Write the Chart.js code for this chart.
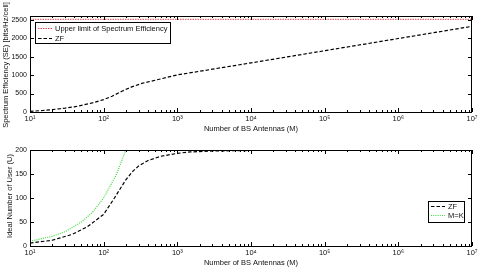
<!DOCTYPE html>
<html>
<head>
<meta charset="utf-8">
<script src="https://cdn.jsdelivr.net/npm/chart.js@4.4.1/dist/chart.umd.min.js"></script>
<style>
  html, body { margin: 0; padding: 0; background: #fff; }
  .panel { width: 480px; height: 134px; position: relative; }
</style>
</head>
<body>
<div class="panel"><canvas id="seChart" width="480" height="134"></canvas></div>
<div class="panel"><canvas id="userChart" width="480" height="134"></canvas></div>
<script>
// x axis: number of BS antennas (M), log scale 10^1 .. 10^7
const decades = [10, 100, 1000, 10000, 100000, 1000000, 10000000]

// top panel: spectrum efficiency
const seM = [10, 15, 20, 30, 40, 50, 70, 100, 130, 180, 240, 330, 550, 1000, 3000, 10000, 100000, 1000000, 10000000]
const seZF = [18, 40, 64, 105, 140, 180, 245, 336, 427, 570, 680, 775, 880, 1005, 1160, 1330, 1660, 1990, 2320]
const limitM = [10, 10000000]
const limitSE = [2510, 2510]
const seTicks = [0, 500, 1000, 1500, 2000, 2500]

// bottom panel: ideal number of users
const userM = [10, 20, 37, 60, 100, 140, 200, 250, 300, 400, 600, 1000, 1500, 3000, 10000, 100000, 10000000]
const userZF = [6, 12, 24, 40, 66, 100, 138, 156, 167, 178, 187, 193, 196, 198, 199, 200, 200]
const mkM = [10, 20, 30, 50, 70, 100, 150, 200]
const mkU = [10, 20, 30, 50, 70, 100, 150, 200]
const userTicks = [0, 50, 100, 150, 200]

const FONT = "'Liberation Sans', Arial, sans-serif"
const sup = { "1": "\u00b9", "2": "\u00b2", "3": "\u00b3", "4": "\u2074", "5": "\u2075", "6": "\u2076", "7": "\u2077" }

const toPoints = (xs, ys) => xs.map((x, i) => ({ x: x, y: ys[i] }))

// MATLAB style box with inward ticks, y title, and a boxed legend
const matlabAxes = {
  id: "matlabAxes",
  afterDraw(chart, args, opts) {
    const { ctx, chartArea: a, scales } = chart
    ctx.save()
    ctx.strokeStyle = "#000"
    ctx.lineWidth = 1
    ctx.strokeRect(Math.round(a.left) + 0.5, Math.round(a.top) + 0.5, Math.round(a.right - a.left) - 1, Math.round(a.bottom - a.top))

    ctx.beginPath()
    decades.forEach((d, i) => {
      for (let k = 1; k <= 9; k++) {
        if (i === decades.length - 1 && k > 1) break
        const px = Math.round(scales.x.getPixelForValue(d * k)) + 0.5
        const len = k === 1 ? 4 : 2
        ctx.moveTo(px, a.bottom)
        ctx.lineTo(px, a.bottom - len)
        ctx.moveTo(px, a.top)
        ctx.lineTo(px, a.top + len)
      }
    })
    scales.y.ticks.forEach((t) => {
      const py = Math.round(scales.y.getPixelForValue(t.value)) + 0.5
      ctx.moveTo(a.left, py)
      ctx.lineTo(a.left + 4, py)
      ctx.moveTo(a.right, py)
      ctx.lineTo(a.right - 4, py)
    })
    ctx.stroke()

    // y axis title
    ctx.fillStyle = "#111"
    ctx.font = "7.5px " + FONT
    ctx.textAlign = "center"
    ctx.textBaseline = "middle"
    ctx.translate(opts.titleX, opts.titleY)
    ctx.rotate(-Math.PI / 2)
    ctx.fillText(opts.title, 0, 0)
    ctx.restore()

    // legend
    const lg = opts.legend
    ctx.save()
    ctx.fillStyle = "#fff"
    ctx.fillRect(lg.x, lg.y, lg.w, lg.h)
    ctx.strokeStyle = "#000"
    ctx.lineWidth = 1
    ctx.strokeRect(lg.x + 0.5, lg.y + 0.5, lg.w, lg.h)
    ctx.font = "7.5px " + FONT
    ctx.textAlign = "left"
    ctx.textBaseline = "middle"
    lg.order.forEach((di, row) => {
      const ds = chart.data.datasets[di]
      const y = lg.y + lg.rowY[row] + 0.5
      ctx.strokeStyle = ds.borderColor
      ctx.lineWidth = ds.borderWidth
      ctx.setLineDash(ds.borderDash || [])
      ctx.beginPath()
      ctx.moveTo(lg.x + lg.sampleX, y)
      ctx.lineTo(lg.x + lg.sampleX + lg.sampleW, y)
      ctx.stroke()
      ctx.setLineDash([])
      ctx.fillStyle = "#111"
      ctx.fillText(ds.label, lg.x + lg.textX, y)
    })
    ctx.restore()
  },
}

function makeOptions(yMin, yMax, yTicks, extra) {
  return {
    responsive: false,
    animation: false,
    layout: { padding: { left: 0, right: 8, top: 16, bottom: 0 } },
    elements: { point: { radius: 0 }, line: { tension: 0 } },
    plugins: {
      legend: { display: false },
      tooltip: { enabled: false },
      matlabAxes: extra,
    },
    scales: {
      x: {
        type: "logarithmic",
        min: 10,
        max: 10000000,
        afterBuildTicks: (s) => { s.ticks = decades.map((v) => ({ value: v })) },
        afterFit: (s) => { s.height = 22 },
        grid: { display: false, drawTicks: false },
        border: { display: false },
        ticks: {
          padding: 2,
          maxRotation: 0,
          autoSkip: false,
          color: "#111",
          font: { family: FONT, size: 7.5 },
          callback: (v) => "10" + sup[String(Math.round(Math.log10(v)))],
        },
        title: {
          display: true,
          text: "Number of BS Antennas (M)",
          color: "#111",
          font: { family: FONT, size: 7.5 },
          padding: { top: 0, bottom: 1 },
        },
      },
      y: {
        min: yMin,
        max: yMax,
        afterBuildTicks: (s) => { s.ticks = yTicks.map((v) => ({ value: v })) },
        afterFit: (s) => { s.width = 30 },
        grid: { display: false, drawTicks: false },
        border: { display: false },
        ticks: {
          padding: 3,
          color: "#111",
          font: { family: FONT, size: 7 },
          callback: (v) => String(v),
        },
      },
    },
  }
}

new Chart(document.getElementById("seChart"), {
  type: "line",
  data: {
    datasets: [
      {
        label: "Upper limit of Spectrum Efficiency",
        data: toPoints(limitM, limitSE),
        borderColor: "#e04a58",
        borderWidth: 1,
        borderDash: [1.5, 1],
      },
      {
        label: "ZF",
        data: toPoints(seM, seZF),
        borderColor: "#000",
        borderWidth: 1.2,
        borderDash: [3.5, 2],
      },
    ],
  },
  options: makeOptions(0, 2600, seTicks, {
    title: "Spectrum Efficiency (SE) [bits/Hz/cell]",
    titleX: 6,
    titleY: 65,
    legend: { x: 35, y: 22, w: 135, h: 21, order: [0, 1], rowY: [6, 16], sampleX: 3, sampleW: 14, textX: 20 },
  }),
  plugins: [matlabAxes],
})

new Chart(document.getElementById("userChart"), {
  type: "line",
  data: {
    datasets: [
      {
        label: "ZF",
        data: toPoints(userM, userZF),
        borderColor: "#000",
        borderWidth: 1.2,
        borderDash: [3.5, 2],
      },
      {
        label: "M=K",
        data: toPoints(mkM, mkU),
        borderColor: "#3bd63b",
        borderWidth: 1.2,
        borderDash: [1, 1.2],
      },
    ],
  },
  options: makeOptions(0, 200, userTicks, {
    title: "Ideal Number of User (U)",
    titleX: 10,
    titleY: 62,
    legend: { x: 428, y: 67, w: 36, h: 21, order: [0, 1], rowY: [5, 14], sampleX: 3, sampleW: 14, textX: 20 },
  }),
  plugins: [matlabAxes],
})
</script>
</body>
</html>
